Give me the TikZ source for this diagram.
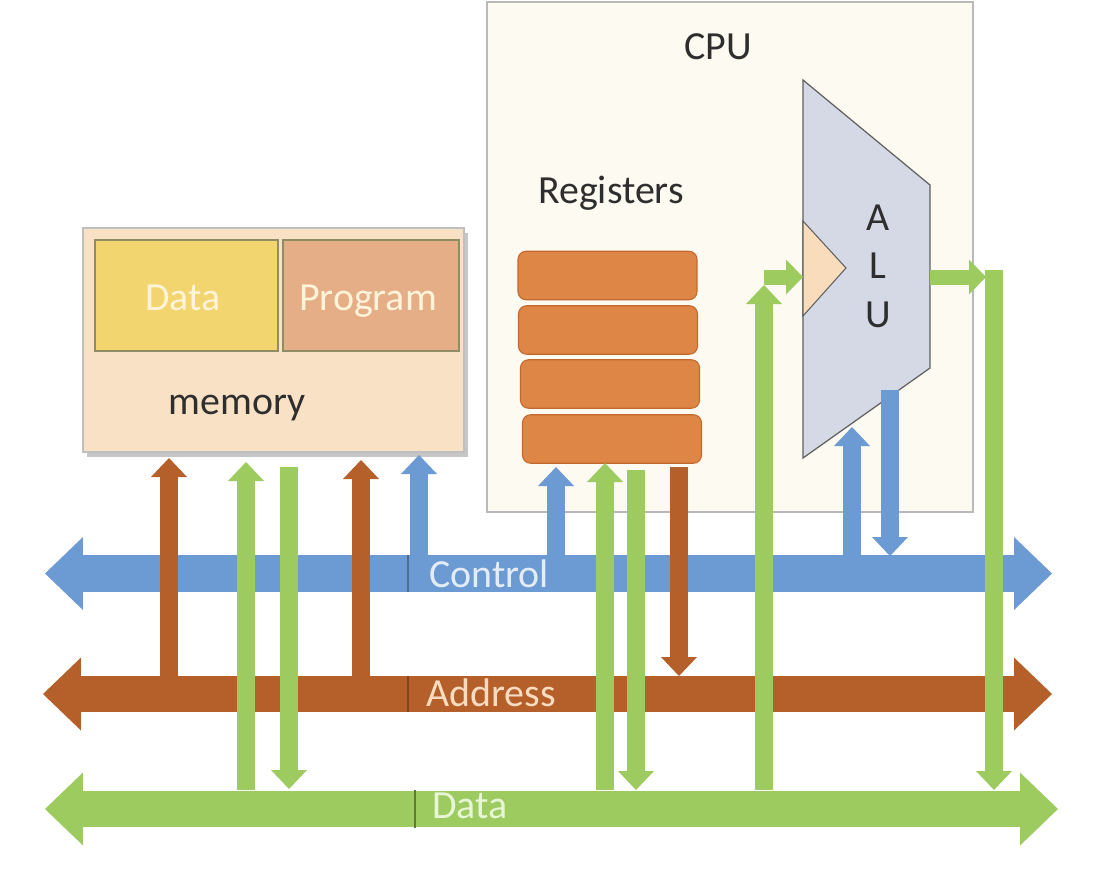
\documentclass[tikz,border=0pt]{standalone}
\usepackage{fontspec}
\setmainfont{Carlito}
\usetikzlibrary{arrows.meta}
\definecolor{cblue}{HTML}{6C9AD2}
\definecolor{cbrown}{HTML}{B5602A}
\definecolor{cgreen}{HTML}{9DCB60}
\definecolor{memfill}{HTML}{F9E1C6}
\definecolor{cpufill}{HTML}{FDFAF1}
\definecolor{alufill}{HTML}{D5D9E6}
\definecolor{trifill}{HTML}{F8DCBC}
\definecolor{datafill}{HTML}{F2D56F}
\definecolor{progfill}{HTML}{E6AE86}
\definecolor{regfill}{HTML}{DE8645}
\definecolor{regline}{HTML}{C2682E}
\definecolor{txt}{HTML}{2E2E2E}
\definecolor{lblblue}{HTML}{E3ECF7}
\definecolor{lblbrown}{HTML}{F8DCC2}
\definecolor{lblgreen}{HTML}{E8F5D6}
\definecolor{lblmem}{HTML}{FFF4DA}
\begin{document}
\begin{tikzpicture}[x=0.02cm,y=-0.02cm,
  lbl/.style={font=\fontsize{22.7pt}{27pt}\selectfont, inner sep=0pt, anchor=base},
  bus/.style={line width=0.73cm,
    {Triangle[length=0.76cm,width=1.46cm,line width=0pt]}-{Triangle[length=0.76cm,width=1.46cm,line width=0pt]}},
  varr/.style={line width=0.36cm, -{Triangle[length=0.38cm,width=0.72cm,line width=0pt]}},
  harr/.style={line width=0.30cm, -{Triangle[length=0.34cm,width=0.70cm,line width=0pt]}},
  box/.style={inner sep=0pt, outer sep=0pt},
  reg/.style={box, draw=regline, line width=0.6pt, fill=regfill, rounded corners=0.16cm,
    minimum width=3.58cm, minimum height=0.97cm},
  divider/.style={line width=0.7pt}
  ]
\useasboundingbox (0,0) rectangle (1096,880);
\fill[white] (0,0) rectangle (1096,880);

% CPU box
\node[box, draw=gray!55, line width=0.8pt, fill=cpufill, minimum width=9.72cm, minimum height=10.2cm] (cpu) at (730,257) {};
\node[lbl, text=txt] (cpulbl) at (718,59) {CPU};
\node[lbl, text=txt] (reglbl) at (611,203) {Registers};

% memory box
\fill[gray!45] (87,233) rectangle (468,457);
\node[box, draw=gray!50, line width=0.8pt, fill=memfill, minimum width=7.62cm, minimum height=4.48cm] (mem) at (273.5,340) {};
\node[box, draw=gray!70!olive, line width=0.6pt, fill=datafill, minimum width=3.66cm, minimum height=2.22cm] (mdata) at (186.5,295.5) {};
\node[box, draw=gray!70!olive, line width=0.6pt, fill=progfill, minimum width=3.52cm, minimum height=2.22cm] (mprog) at (371,295.5) {};
\node[lbl, text=lblmem] (mdatalbl) at (183,310) {Data};
\node[lbl, text=lblmem] (mproglbl) at (368,310) {Program};
\node[lbl, text=txt] (memlbl) at (237,414) {memory};

% registers
\node[reg] (r1) at (607.5,275.5) {};
\node[reg] (r2) at (608,330) {};
\node[reg] (r3) at (610,384) {};
\node[reg] (r4) at (612,439) {};

% ALU
\draw[fill=alufill, draw=gray!75!black, line width=0.7pt, line join=miter]
  (803,80) coordinate (aluTL) -- (930,185) -- (930,368) -- (803,458) coordinate (aluBL) -- cycle;
\draw[fill=trifill, draw=gray!75!black, line width=0.6pt]
  (803,221) -- (846,268) -- (803,316) -- cycle;
\node[lbl, text=txt] (la) at (878,230) {A};
\node[lbl, text=txt] (ll) at (878,278) {L};
\node[lbl, text=txt] (lu) at (878,327) {U};

% buses
\coordinate (ctrlL) at (45,573.5);  \coordinate (ctrlR) at (1052,573.5);
\coordinate (addrL) at (43,694);    \coordinate (addrR) at (1052,694);
\coordinate (dataL) at (45,809);    \coordinate (dataR) at (1058,809);
\draw[bus, cblue] (ctrlL) -- (ctrlR);
\draw[bus, cbrown] (addrL) -- (addrR);
\draw[bus, cgreen] (dataL) -- (dataR);

% memory side arrows
\draw[varr, cbrown] (169,676) -- (169,458);
\draw[varr, cgreen] (246,790) -- (246,462);
\draw[varr, cgreen] (289,467) -- (289,789);
\draw[varr, cbrown] (361,676) -- (361,460);
\draw[varr, cblue]  (419,556) -- (419,455);

% CPU side arrows
\draw[varr, cblue]  (556,556) -- (556,467);
\draw[varr, cgreen] (605,790) -- (605,463);
\draw[varr, cgreen] (636,470) -- (636,790);
\draw[varr, cbrown] (679,467) -- (679,676);
\draw[varr, cgreen] (764,790) -- (764,285);
\draw[harr, cgreen] (764,277) -- (803,277);
\draw[harr, cgreen] (930,277) -- (986,277);
\draw[varr, cgreen] (994,270) -- (994,790);
\draw[varr, cblue]  (852,556) -- (852,427);
\draw[varr, cblue]  (890,390) -- (890,556);

% bus labels
\draw[divider, cblue!70!black] (408,555) -- (408,592);
\draw[divider, cbrown!70!black] (408,676) -- (408,712);
\draw[divider, cgreen!60!black] (415,790) -- (415,828);
\node[lbl, text=lblblue] (ctrllbl) at (489,587) {Control};
\node[lbl, text=lblbrown] (addrlbl) at (491,706) {Address};
\node[lbl, text=lblgreen] (datalbl) at (470,818) {Data};
\end{tikzpicture}
\end{document}
